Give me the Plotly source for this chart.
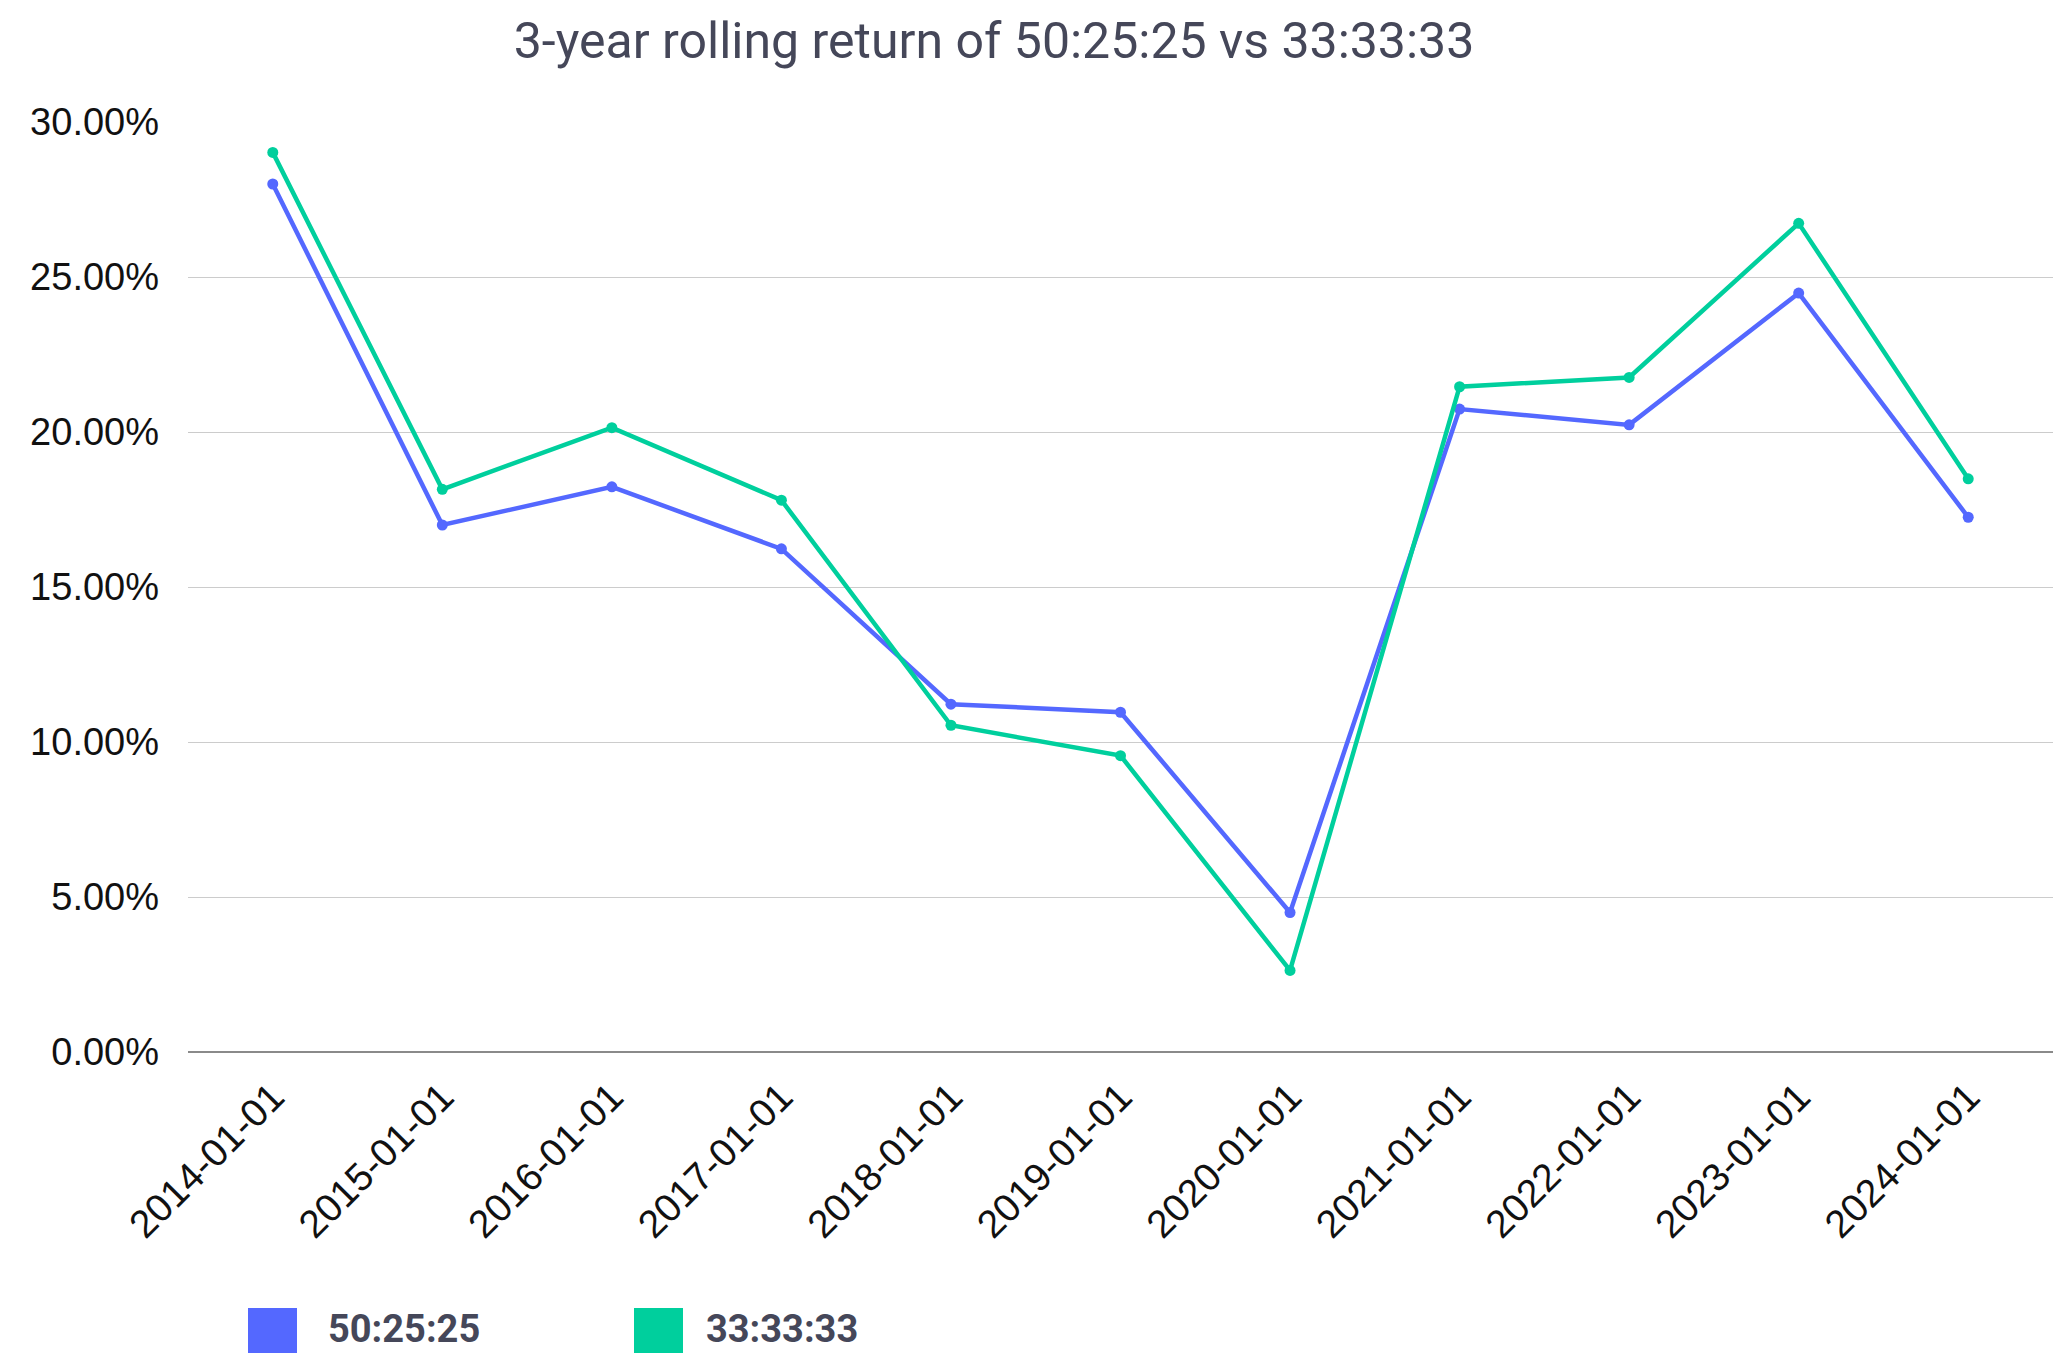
import plotly.graph_objects as go

dates = ["2014-01-01", "2015-01-01", "2016-01-01", "2017-01-01", "2018-01-01",
         "2019-01-01", "2020-01-01", "2021-01-01", "2022-01-01", "2023-01-01", "2024-01-01"]
s_502525 = [28.00, 17.00, 18.23, 16.23, 11.22, 10.96, 4.50, 20.74, 20.23, 24.48, 17.25]
s_333333 = [29.02, 18.15, 20.14, 17.80, 10.54, 9.56, 2.63, 21.46, 21.76, 26.73, 18.49]
names = ["50:25:25", "33:33:33"]
colors = ["#5468FF", "#00CF9D"]
title = "3-year rolling return of 50:25:25 vs 33:33:33"

W, H = 2064, 1353
fig = go.Figure()
for name, vals, col in zip(names, [s_502525, s_333333], colors):
    fig.add_trace(go.Scatter(
        x=dates, y=vals, name=name, mode="lines+markers",
        line=dict(color=col, width=4.5), marker=dict(color=col, size=11),
        showlegend=False))

ml, mr, mt, mb = 180, 19, 114, 309
PW, PH = W - ml - mr, H - mt - mb
fig.update_layout(
    template="none",
    width=W, height=H,
    margin=dict(l=ml, r=mr, t=mt, b=mb, autoexpand=False),
    paper_bgcolor="white", plot_bgcolor="white",
    title=dict(text=title, x=986 / W, xanchor="center", y=1 - 32 / H, yanchor="middle",
               font=dict(family="Roboto", size=50, color="#454759")),
    xaxis=dict(type="category", range=[-0.5, len(dates) - 0.5], tickangle=-45,
               showgrid=False, showline=False, zeroline=False,
               automargin=False, ticks="", ticklabelstandoff=13,
               tickfont=dict(family="Liberation Sans", size=39, color="#111111")),
    yaxis=dict(range=[0, 30], dtick=5, tickformat=".2f", ticksuffix="%",
               automargin=False,
               showgrid=True, gridcolor="#CCCCCC", gridwidth=1,
               zeroline=True, zerolinecolor="#8A8A8A", zerolinewidth=2,
               showline=False, ticks="", ticklabelstandoff=28,
               tickfont=dict(family="Liberation Sans", size=38, color="#111111")),
    showlegend=False,
)

# custom legend (square swatches)
legend_items = [(240, 318), (626, 696)]
for (sx, tx), name, col in zip(legend_items, names, colors):
    fig.add_shape(type="rect", xref="paper", yref="paper",
                  x0=(sx - ml) / PW, x1=(sx + 49 - ml) / PW,
                  y0=(H - mb - 1353) / PH, y1=(H - mb - 1300) / PH,
                  fillcolor=col, line=dict(width=0))
    fig.add_annotation(text="<b>" + name + "</b>", xref="paper", yref="paper",
                       x=(tx - ml) / PW, y=(H - mb - 1321) / PH,
                       xanchor="left", yanchor="middle", showarrow=False,
                       font=dict(family="Roboto", size=38, color="#454759"))

fig.write_html("out.html")
